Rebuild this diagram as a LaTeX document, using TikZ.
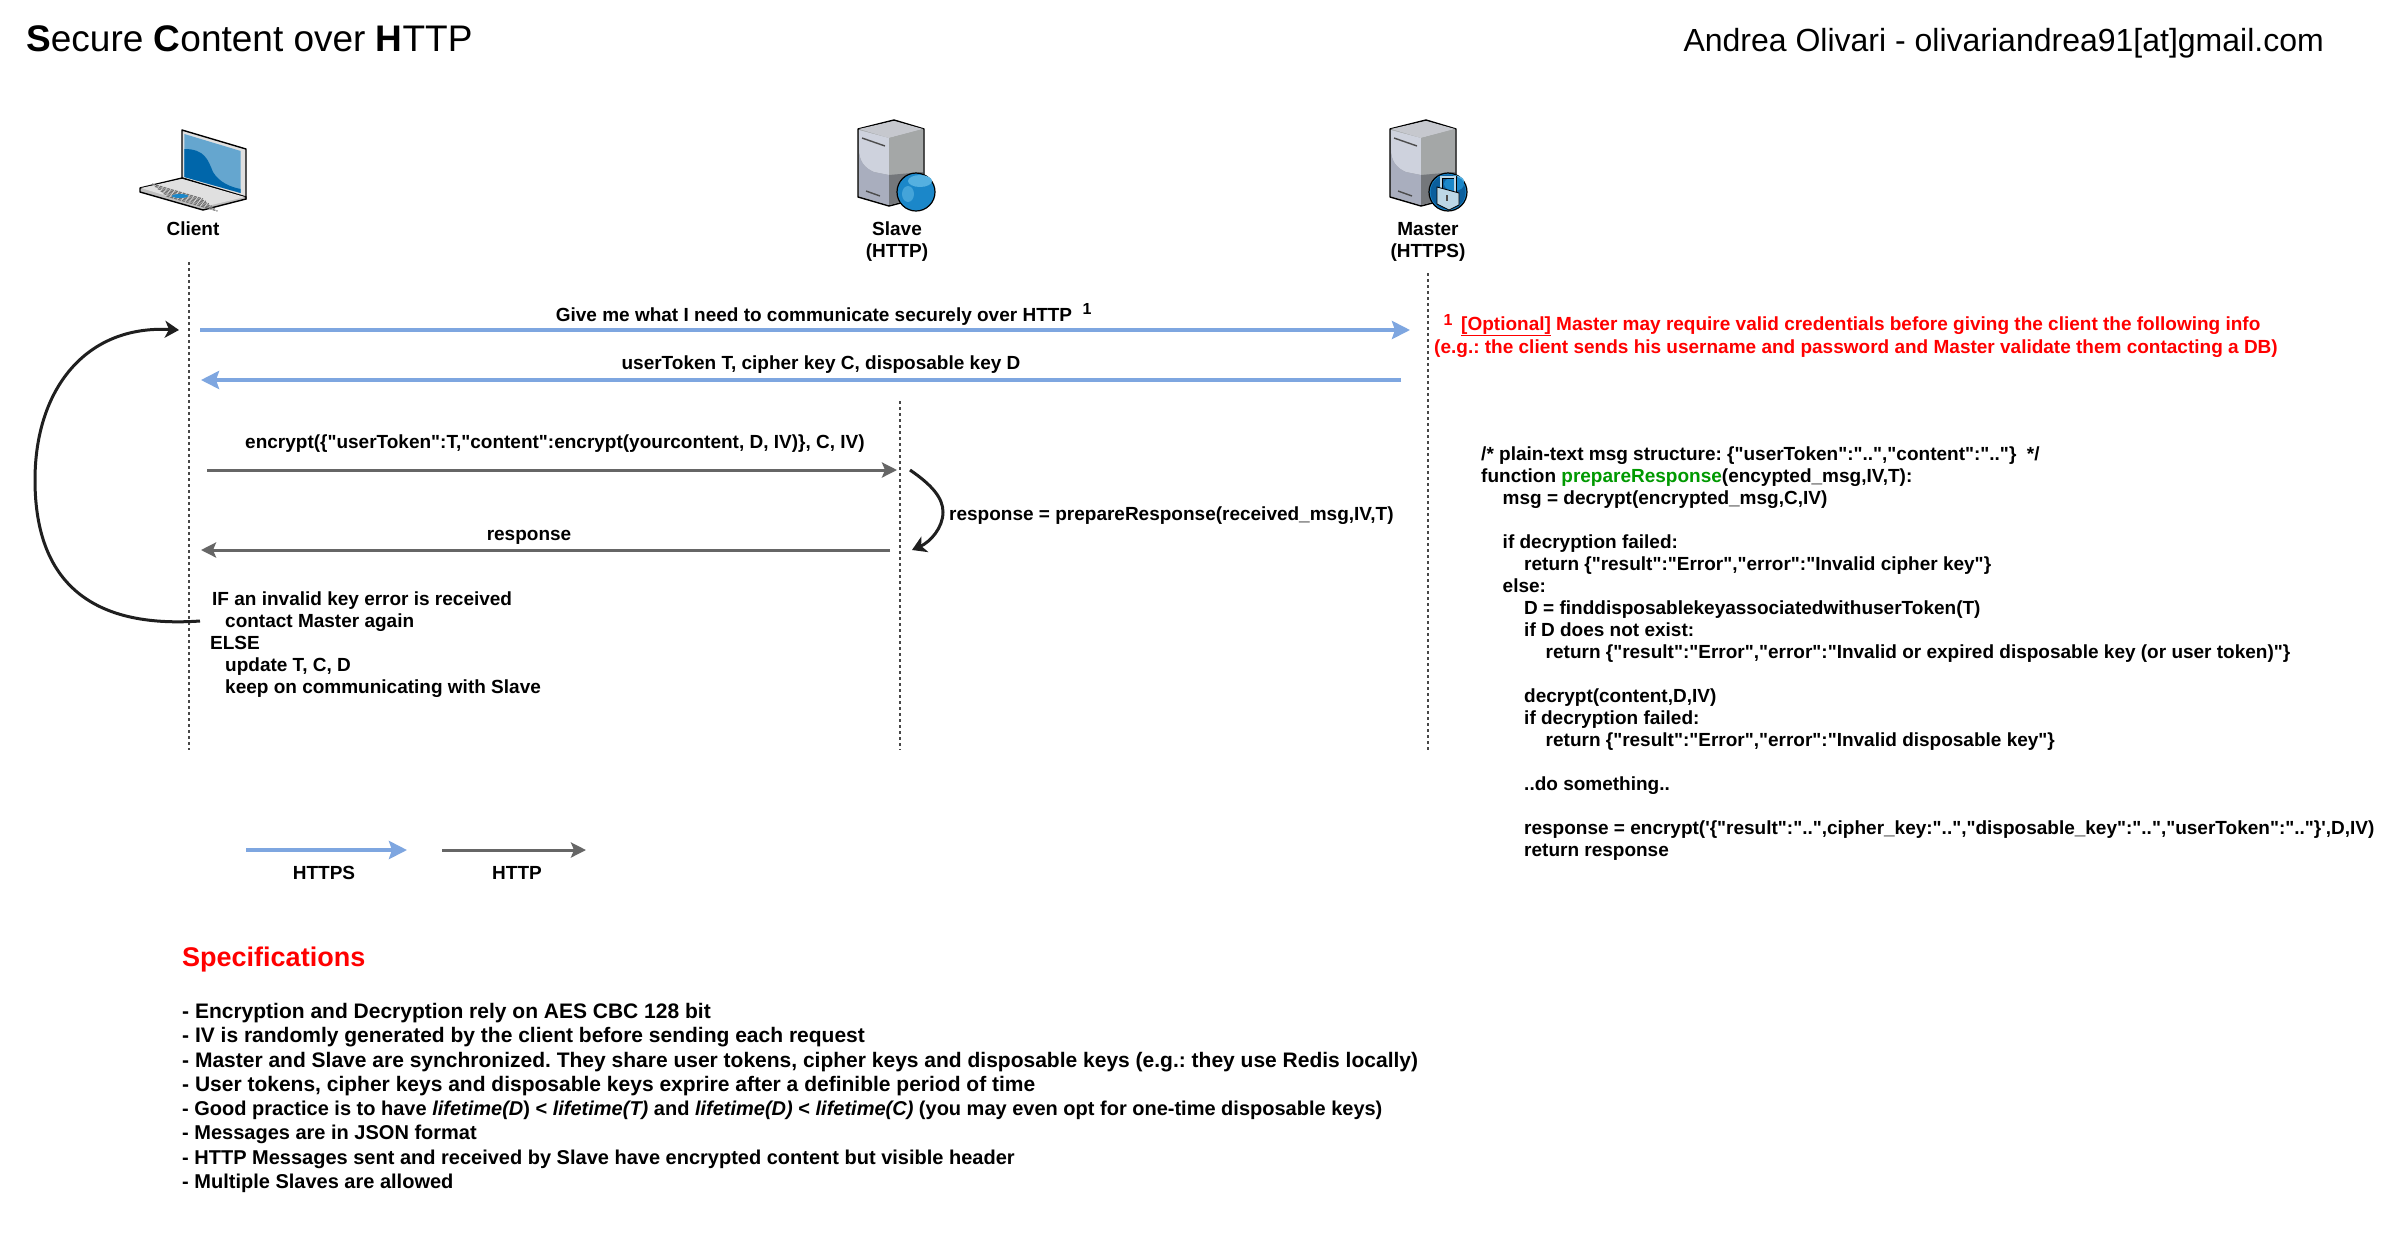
\documentclass[tikz,border=0pt]{standalone}
\usepackage{fontspec}
\newfontfamily\lib{Liberation Sans}
\usetikzlibrary{arrows.meta}
\definecolor{httpsblue}{HTML}{7EA6E0}
\definecolor{httpgray}{HTML}{666666}
\definecolor{loopblack}{HTML}{1F1F1F}
\definecolor{grn}{HTML}{009900}
\definecolor{scrlight}{HTML}{65A6CF}
\definecolor{scrdark}{HTML}{0066AA}
\definecolor{srvtop}{HTML}{C6C8CE}
\definecolor{srvul}{HTML}{CED2DD}
\definecolor{srvll}{HTML}{A9AEBE}
\definecolor{srvur}{HTML}{A4A7A7}
\definecolor{srvlr}{HTML}{74777B}
\definecolor{globe}{HTML}{1B87C9}
\definecolor{globehi}{HTML}{55B0E0}
\definecolor{globedk}{HTML}{0B5E9C}
\definecolor{lockb}{HTML}{BCD7E6}
\newcommand{\sz}[2]{\fontsize{#1}{#2}\selectfont}
\newcommand{\ia}{\hspace*{21.5pt}}
\newcommand{\sm}{\sz{20}{24.3}}
\tikzset{
  lbl/.style={inner sep=0pt,font=\lib\bfseries\sz{19}{22},text=black},
  ttl/.style={inner sep=0pt,font=\lib\sz{37}{40},text=black},
  redt/.style={inner sep=0pt,font=\lib\bfseries\sz{19}{22},text=red},
  blk/.style={inner sep=0pt,align=left,anchor=north west,font=\lib\bfseries\sz{19}{22}\frenchspacing,text=black},
  life/.style={draw=httpgray!70!black,line width=1.6pt,dash pattern=on 3pt off 3pt},
  https/.style={draw=httpsblue,line width=4pt,-{Stealth[length=18pt,width=18pt,inset=3pt]}},
  http/.style={draw=httpgray,line width=3pt,-{Stealth[length=15pt,width=15pt,inset=3pt]}},
  loopa/.style={draw=loopblack,line width=3pt,-{Stealth[length=14pt,width=17pt,inset=4pt]}},
  server/.pic={
    \fill[draw=black,line width=1.4pt,fill=srvur,line join=round] (36,0)--(0,9)--(0,77)--(31,86)--(66,77)--(66,9)--cycle;
    \fill[fill=srvtop] (36,1)--(1,9)--(31,18)--(65,9)--cycle;
    \fill[fill=srvul] (1,10)--(31,18)--(31,55)--(16,52) .. controls (6,48) and (1,40) .. (1,30)--cycle;
    \fill[fill=srvll] (1,30) .. controls (1,40) and (6,48) .. (16,52)--(31,55)--(31,85)--(1,76)--cycle;
    \fill[fill=srvur] (31,18)--(65,9)--(65,52)--(31,55)--cycle;
    \fill[fill=srvlr] (31,55)--(65,52)--(65,76)--(31,85)--cycle;
    \draw[black!70,line width=1.4pt] (4,18)--(27,26);
    \draw[black!70,line width=1.4pt] (8,71)--(22,76);
    \fill[draw=black,line width=1.2pt,fill=globe] (58,72) circle (19);
    \fill[globehi] (62,61) ellipse (12 and 6);
    \fill[globehi!70!globe] (50,74) ellipse (6 and 8);
  },
}
\begin{document}
\begin{tikzpicture}[x=1pt,y=-1pt]
\useasboundingbox (0,0) rectangle (2401,1240);
\fill[white] (0,0) rectangle (2401,1240);

% Header
\node[ttl,anchor=mid west] (title) at (26,49) {{\bfseries S}ecure {\bfseries C}ontent over {\bfseries H}TTP};
\node[ttl,anchor=mid east,font=\lib\sz{32}{40}] (author) at (2324,49) {Andrea Olivari - olivariandrea91[at]gmail.com};

% Laptop icon
\begin{scope}[line join=round]
  \fill[fill=black!12,draw=black,line width=1.4pt] (182,130)--(246,149)--(246,199)--(182,178)--cycle;
  \fill[fill=scrlight] (184.3,134)--(240.7,151)--(240.7,193)--(184.3,177)--cycle;
  \fill[fill=scrdark] (184.3,149) .. controls (205,149) and (208,160) .. (213,172) .. controls (219,182) and (230,187) .. (240.7,189) -- (240.7,193)--(184.3,177)--cycle;
  \fill[fill=black!25,draw=black,line width=1.4pt] (140,188)--(182,178)--(246,197)--(246,199)--(203,210)--(140,192)--cycle;
  \fill[fill=black!12] (141,188)--(182,179)--(245,197)--(203,207)--cycle;
  \foreach \k in {0,...,5} {
    \draw[black!55,line width=1.2pt,dash pattern=on 3pt off 1pt] (152+\k*2.9,184+\k*2.4) -- (203+\k*2.9,199+\k*2.4);
  }
  \fill[globe] (180,196) ellipse (8 and 2);
\end{scope}

% Server icons
\pic at (858,120) {server};
\pic at (1390,120) {server};
\begin{scope}[shift={(1448,192)}]
  \fill[globedk] (0,0) circle (17.5);
  \fill[globe] (6,-8) ellipse (10 and 7);
  \draw[black,line width=3pt] (-7,-3) -- (-7,-15) -- (7,-15) -- (7,0);
  \draw[lockb,line width=1.4pt] (-7,-3) -- (-7,-15) -- (7,-15) -- (7,0);
  \fill[fill=lockb,draw=black,line width=.8pt] (-11,-5) -- (11,1) -- (11,13) -- (1,18) -- (-11,12) -- cycle;
  \fill[black!70] (-2,3) rectangle (0,9);
\end{scope}

% Actor labels
\node[lbl,anchor=mid] (client) at (193,233) {Client};
\node[lbl,anchor=center,align=center] (slave) at (897,242) {Slave\\(HTTP)};
\node[lbl,anchor=center,align=center] (master) at (1428,242) {Master\\(HTTPS)};

% Lifelines
\coordinate (c0) at (189,262); \coordinate (c1) at (189,750);
\coordinate (s0) at (900,401); \coordinate (s1) at (900,750);
\coordinate (m0) at (1428,273); \coordinate (m1) at (1428,750);
\draw[life] (c0) -- (c1);
\draw[life] (s0) -- (s1);
\draw[life] (m0) -- (m1);

% Message endpoints
\coordinate (a1s) at (200,330); \coordinate (a1e) at (1410,330);
\coordinate (a2s) at (1401,380); \coordinate (a2e) at (201,380);
\coordinate (a3s) at (207,470); \coordinate (a3e) at (897,470);
\coordinate (a4s) at (890,550); \coordinate (a4e) at (201,550);
\coordinate (l1s) at (910,470); \coordinate (l1e) at (912,550);
\coordinate (l2s) at (200,621); \coordinate (l2e) at (179,330);
\draw[https] (a1s) -- (a1e);
\draw[https] (a2s) -- (a2e);
\draw[http] (a3s) -- (a3e);
\draw[http] (a4s) -- (a4e);
\draw[loopa] (l1s) .. controls (932,485) and (943,498) .. (943,512) .. controls (943,528) and (930,542) .. (l1e);
\draw[loopa] (l2s) .. controls (100,628) and (35,590) .. (35,480) .. controls (35,390) and (85,325) .. (l2e);

% Message labels
\node[lbl,anchor=mid] (t1) at (814,319) {Give me what I need to communicate securely over HTTP};
\node[lbl,anchor=mid,font=\lib\bfseries\sz{16}{16}] (t1n) at (1087,312) {1};
\node[lbl,anchor=mid] (t2) at (821,367) {userToken T, cipher key C, disposable key D};
\node[lbl,anchor=mid west] (t3) at (245,446) {encrypt(\{"userToken":T,"content":encrypt(yourcontent, D, IV)\}, C, IV)};
\node[lbl,anchor=mid] (t4) at (529,538) {response};
\node[lbl,anchor=mid west] (t5) at (949,518) {response = prepareResponse(received\_msg,IV,T)};

% Client logic
\node[blk] (logic) at (210,592) {\hspace*{2pt}IF an invalid key error is received\\
\hspace*{15pt}contact Master again\\
ELSE\\
\hspace*{15pt}update T, C, D\\
\hspace*{15pt}keep on communicating with Slave};

% Master note
\node[redt,anchor=mid,font=\lib\bfseries\sz{16}{16}] (n1) at (1448,323) {1};
\node[redt,anchor=mid west] (n2) at (1461,328) {\underline{[Optional]} Master may require valid credentials before giving the client the following info};
\node[redt,anchor=mid west,font=\lib\bfseries\sz{19}{22}\frenchspacing] (n3) at (1434,351) {(e.g.: the client sends his username and password and Master validate them contacting a DB)};

% Pseudocode
\node[blk] (code) at (1481,447) {/* plain-text msg structure: \{"userToken":"..","content":".."\}~ */\\
function {\color{grn}prepareResponse}(encypted\_msg,IV,T):\\
\ia msg = decrypt(encrypted\_msg,C,IV)\\
\mbox{}\\
\ia if decryption failed:\\
\ia\ia return \{"result":"Error","error":"Invalid cipher key"\}\\
\ia else:\\
\ia\ia D = finddisposablekeyassociatedwithuserToken(T)\\
\ia\ia if D does not exist:\\
\ia\ia\ia return \{"result":"Error","error":"Invalid or expired disposable key (or user token)"\}\\
\mbox{}\\
\ia\ia decrypt(content,D,IV)\\
\ia\ia if decryption failed:\\
\ia\ia\ia return \{"result":"Error","error":"Invalid disposable key"\}\\
\mbox{}\\
\ia\ia ..do something..\\
\mbox{}\\
\ia\ia response = encrypt('\{"result":"..",cipher\_key:"..","disposable\_key":"..","userToken":".."\}',D,IV)\\
\ia\ia return response};

% Legend
\coordinate (lg1s) at (246,850); \coordinate (lg1e) at (407,850);
\coordinate (lg2s) at (442,850); \coordinate (lg2e) at (586,850);
\draw[https] (lg1s) -- (lg1e);
\draw[http] (lg2s) -- (lg2e);
\node[lbl,anchor=mid] (lgt1) at (324,877) {HTTPS};
\node[lbl,anchor=mid] (lgt2) at (517,877) {HTTP};

% Specifications
\node[redt,anchor=mid west,font=\lib\bfseries\sz{27}{30}] (spec) at (182,964) {Specifications};
\node[blk,font=\lib\bfseries\sz{21}{24.3}\frenchspacing] (list) at (182,1003) {- Encryption and Decryption rely on AES CBC 128 bit\\
- IV is randomly generated by the client before sending each request\\
- Master and Slave are synchronized. They share user tokens, cipher keys and disposable keys (e.g.: they use Redis locally)\\
- User tokens, cipher keys and disposable keys exprire after a definible period of time\\
\sm- Good practice is to have \textit{lifetime(D}) < \textit{lifetime(T)} and \textit{lifetime(D)} < \textit{lifetime(C)} (you may even opt for one-time disposable keys)\\
\sm- Messages are in JSON format\\
\sm- HTTP Messages sent and received by Slave have encrypted content but visible header\\
\sm- Multiple Slaves are allowed};
\end{tikzpicture}
\end{document}
